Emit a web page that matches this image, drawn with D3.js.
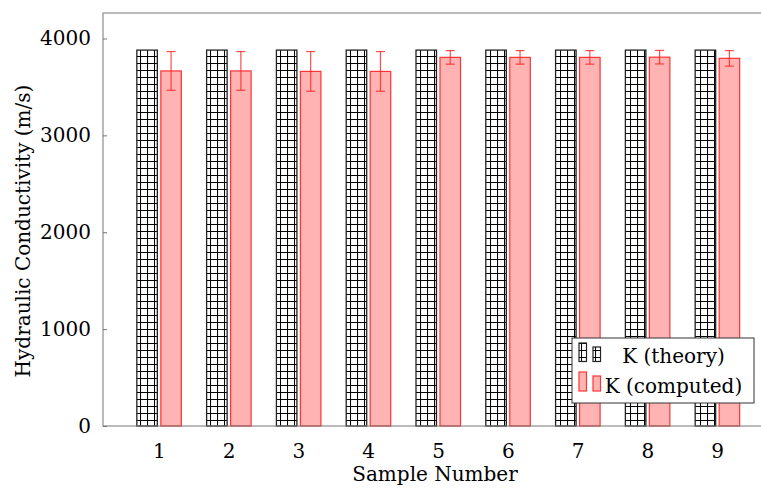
<!DOCTYPE html>
<html>
<head>
<meta charset="utf-8">
<script src="https://cdn.jsdelivr.net/npm/d3@7"></script>
<style>
body { margin: 0; background: #fff; }
text { font-family: "DejaVu Serif", serif; fill: #000; }
</style>
</head>
<body>
<div class="chart"></div>
<script>
// data
const samples = [1, 2, 3, 4, 5, 6, 7, 8, 9]
const theory = [3880, 3880, 3880, 3880, 3880, 3880, 3880, 3880, 3880]
const computed = [3665, 3665, 3660, 3660, 3805, 3805, 3805, 3807, 3795]
const computedErr = [200, 200, 205, 205, 70, 70, 70, 70, 80]
const yTicks = [0, 1000, 2000, 3000, 4000]
const seriesNames = ['K (theory)', 'K (computed)']

const w = 761
const h = 488

const svg = d3.select('.chart')
  .append('svg')
  .attr('width', w)
  .attr('height', h)

// grid hatch, in user space like pgfplots patterns
const defs = svg.append('defs')
const pat = defs.append('pattern')
  .attr('id', 'grid')
  .attr('patternUnits', 'userSpaceOnUse')
  .attr('width', 7)
  .attr('height', 7)
pat.append('rect').attr('width', 7).attr('height', 7).attr('fill', '#fff')
pat.append('path')
  .attr('d', 'M0,0.5H7M0.5,0V7')
  .attr('stroke', '#000')
  .attr('stroke-width', 1.1)

const x = d3.scaleLinear().domain([0.2, 9.8]).range([103, 773])
const y = d3.scaleLinear().domain([0, 4263]).range([426, 13])

const unit = x(2) - x(1)
const bw = 20.5

// bars
svg.selectAll('rect.theory')
  .data(samples)
  .enter()
  .append('rect')
  .attr('class', 'theory')
  .attr('x', (d) => x(d) - 22)
  .attr('y', (d, i) => y(theory[i]))
  .attr('width', bw)
  .attr('height', (d, i) => y(0) - y(theory[i]))
  .attr('fill', 'url(#grid)')
  .attr('stroke', '#222')
  .attr('stroke-width', 1.3)

svg.selectAll('rect.computed')
  .data(samples)
  .enter()
  .append('rect')
  .attr('class', 'computed')
  .attr('x', (d) => x(d) + 2)
  .attr('y', (d, i) => y(computed[i]))
  .attr('width', bw)
  .attr('height', (d, i) => y(0) - y(computed[i]))
  .attr('fill', '#ffb3b3')
  .attr('stroke', '#ff3333')
  .attr('stroke-width', 1.2)

// error bars
const eb = svg.append('g')
  .attr('stroke', '#ff2020')
  .attr('stroke-opacity', 0.8)
  .attr('stroke-width', 1.2)
samples.forEach((d, i) => {
  const cx = x(d) + 2 + bw / 2
  const top = y(computed[i] + computedErr[i])
  const bot = y(computed[i] - computedErr[i])
  eb.append('line').attr('x1', cx).attr('x2', cx).attr('y1', top).attr('y2', bot)
  eb.append('line').attr('x1', cx - 4.5).attr('x2', cx + 4.5).attr('y1', top).attr('y2', top)
  eb.append('line').attr('x1', cx - 4.5).attr('x2', cx + 4.5).attr('y1', bot).attr('y2', bot)
})

// axis box
svg.append('rect')
  .attr('x', x(0.2))
  .attr('y', y(4263))
  .attr('width', x(9.8) - x(0.2))
  .attr('height', y(0) - y(4263))
  .attr('fill', 'none')
  .attr('stroke', '#777')
  .attr('stroke-width', 1)

const yAxis = svg.append('g')
  .attr('transform', `translate(${x(0.2)},0)`)
  .call(d3.axisLeft(y).tickValues(yTicks).tickSize(-4).tickPadding(12).tickFormat(d3.format('d')))
yAxis.select('.domain').remove()
yAxis.selectAll('line').attr('stroke', '#777')
yAxis.selectAll('text').style('font-size', '20px').style('font-family', '"DejaVu Serif", serif').attr('fill', '#000')

const xAxis = svg.append('g')
  .attr('transform', `translate(0,${y(0)})`)
  .call(d3.axisBottom(x).tickValues(samples).tickSize(0).tickPadding(18).tickFormat(d3.format('d')))
xAxis.select('.domain').remove()
xAxis.selectAll('text').style('font-size', '20px').style('font-family', '"DejaVu Serif", serif').attr('fill', '#000')

// axis titles
svg.append('text')
  .attr('x', (x(0.2) + x(9.8)) / 2 - 3)
  .attr('y', 481)
  .attr('text-anchor', 'middle')
  .style('font-size', '20px')
  .text('Sample Number')

svg.append('text')
  .attr('transform', 'translate(30,231) rotate(-90)')
  .attr('text-anchor', 'middle')
  .style('font-size', '20px')
  .text('Hydraulic Conductivity (m/s)')

// legend
const lg = svg.append('g')
lg.append('rect')
  .attr('x', 572).attr('y', 338)
  .attr('width', 182).attr('height', 65)
  .attr('fill', '#fff')
  .attr('stroke', '#333')
  .attr('stroke-width', 1)

lg.append('rect').attr('x', 579).attr('y', 343).attr('width', 7.5).attr('height', 18.5)
  .attr('fill', 'url(#grid)').attr('stroke', '#222').attr('stroke-width', 1.2)
lg.append('rect').attr('x', 593).attr('y', 347).attr('width', 7.5).attr('height', 14.5)
  .attr('fill', 'url(#grid)').attr('stroke', '#222').attr('stroke-width', 1.2)
lg.append('rect').attr('x', 579).attr('y', 372).attr('width', 7.5).attr('height', 19)
  .attr('fill', '#ffb3b3').attr('stroke', '#ff3333').attr('stroke-width', 1.2)
lg.append('rect').attr('x', 593).attr('y', 376).attr('width', 7.5).attr('height', 15)
  .attr('fill', '#ffb3b3').attr('stroke', '#ff3333').attr('stroke-width', 1.2)

lg.selectAll('text.lab')
  .data(seriesNames)
  .enter()
  .append('text')
  .attr('class', 'lab')
  .attr('x', 673.5)
  .attr('y', (d, i) => 363 + i * 30)
  .attr('text-anchor', 'middle')
  .style('font-size', '20px')
  .text((d) => d)
</script>
</body>
</html>
